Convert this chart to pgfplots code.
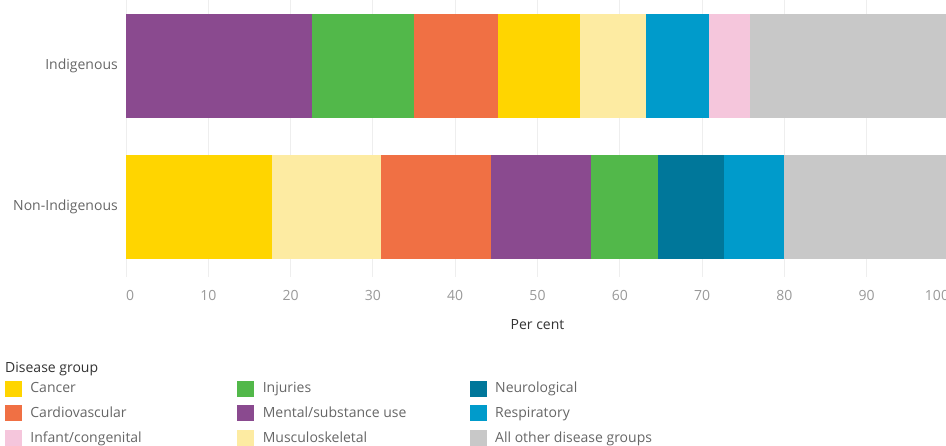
\documentclass[border=0pt]{standalone}
\usepackage{fontspec}
\setmainfont{Open Sans}
\usepackage{pgfplots}
\pgfplotsset{compat=1.18}
\definecolor{cCancer}{HTML}{FFD500}
\definecolor{cCardio}{HTML}{F07044}
\definecolor{cInfant}{HTML}{F5C6DC}
\definecolor{cInjuries}{HTML}{52B84A}
\definecolor{cMental}{HTML}{8A4A8F}
\definecolor{cMusculo}{HTML}{FDEBA2}
\definecolor{cNeuro}{HTML}{00779A}
\definecolor{cResp}{HTML}{009BCB}
\definecolor{cOther}{HTML}{C8C8C8}
\definecolor{tickgrey}{HTML}{999999}
\definecolor{labgrey}{HTML}{666666}
\definecolor{gridgrey}{HTML}{EEEEEE}
\definecolor{darktext}{HTML}{333333}
\newcommand{\fs}{\fontsize{14}{16}\selectfont}
\begin{document}
\begin{tikzpicture}
\path[use as bounding box] (0pt,0pt) rectangle (946pt,445pt);
\clip (0pt,0pt) rectangle (946pt,445pt);
\pgfplotsset{
  base/.style={
    at={(126pt,168.25pt)}, anchor=south west,
    scale only axis, width=823pt, height=280.75pt,
    xmin=0, xmax=100, ymin=-0.5, ymax=1.5,
    xbar stacked, bar width=104pt,
    axis line style={draw=none}, tick style={draw=none},
  },
  seg/.style={fill=#1, draw=none, forget plot},
}
% Indigenous stack (with axes, grid, labels, legend)
\begin{axis}[base,
  xtick={0,10,...,100},
  xticklabels={\rlap{0},10,20,30,40,50,60,70,80,90,\llap{100}},
  xmajorgrids, major grid style={gridgrey, line width=1pt},
  ytick={0,1}, yticklabels={Non-Indigenous, Indigenous},
  /pgf/number format/assume math mode=true,
  xticklabel style={font=\fs, text=tickgrey, anchor=north, yshift=-10pt},
  yticklabel style={font=\fs, text=labgrey, anchor=east, inner sep=0pt, xshift=-8pt},
  xlabel={Per cent},
  xlabel style={font=\fs, text=darktext, at={(axis description cs:0.5,0)}, anchor=center, yshift=-48pt},
  legend columns=3,
  legend style={at={(axis description cs:-0.1470,-0.3700)}, anchor=north west,
    draw=none, fill=none, inner sep=0pt, outer sep=0pt,
    font=\fs, text=labgrey,
    nodes={inner sep=0pt, text height=11pt, text depth=3.5pt},
    row sep=9.3pt,
    /tikz/every odd column/.append style={column sep=9pt},
    /tikz/every even column/.append style={column sep=6pt}},
  legend cell align=left,
]
\addplot[seg=cMental] coordinates {(22.6,1)};
\addplot[seg=cInjuries] coordinates {(12.4,1)};
\addplot[seg=cCardio] coordinates {(10.2,1)};
\addplot[seg=cCancer] coordinates {(10.0,1)};
\addplot[seg=cMusculo] coordinates {(8.0,1)};
\addplot[seg=cResp] coordinates {(7.6,1)};
\addplot[seg=cInfant] coordinates {(5.0,1)};
\addplot[seg=cOther] coordinates {(24.2,1)};
\addlegendimage{legend image code/.code={\fill[cCancer] (0pt,-7pt) rectangle (16pt,8pt);}}
\addlegendentry{\makebox[201pt][l]{Cancer}}
\addlegendimage{legend image code/.code={\fill[cInjuries] (0pt,-7pt) rectangle (16pt,8pt);}}
\addlegendentry{\makebox[201pt][l]{Injuries}}
\addlegendimage{legend image code/.code={\fill[cNeuro] (0pt,-7pt) rectangle (16pt,8pt);}}
\addlegendentry{\makebox[201pt][l]{Neurological}}
\addlegendimage{legend image code/.code={\fill[cCardio] (0pt,-7pt) rectangle (16pt,8pt);}}
\addlegendentry{\makebox[201pt][l]{Cardiovascular}}
\addlegendimage{legend image code/.code={\fill[cMental] (0pt,-7pt) rectangle (16pt,8pt);}}
\addlegendentry{\makebox[201pt][l]{Mental/substance use}}
\addlegendimage{legend image code/.code={\fill[cResp] (0pt,-7pt) rectangle (16pt,8pt);}}
\addlegendentry{\makebox[201pt][l]{Respiratory}}
\addlegendimage{legend image code/.code={\fill[cInfant] (0pt,-7pt) rectangle (16pt,8pt);}}
\addlegendentry{\makebox[201pt][l]{Infant/congenital}}
\addlegendimage{legend image code/.code={\fill[cMusculo] (0pt,-7pt) rectangle (16pt,8pt);}}
\addlegendentry{\makebox[201pt][l]{Musculoskeletal}}
\addlegendimage{legend image code/.code={\fill[cOther] (0pt,-7pt) rectangle (16pt,8pt);}}
\addlegendentry{\makebox[201pt][l]{All other disease groups}}
\end{axis}
% Non-Indigenous stack
\begin{axis}[base, hide axis]
\addplot[seg=cCancer] coordinates {(17.8,0)};
\addplot[seg=cMusculo] coordinates {(13.2,0)};
\addplot[seg=cCardio] coordinates {(13.35,0)};
\addplot[seg=cMental] coordinates {(12.15,0)};
\addplot[seg=cInjuries] coordinates {(8.2,0)};
\addplot[seg=cNeuro] coordinates {(8.0,0)};
\addplot[seg=cResp] coordinates {(7.3,0)};
\addplot[seg=cOther] coordinates {(20.0,0)};
\end{axis}
\node[anchor=west, font=\fs, text=darktext, inner sep=0pt] at (5pt,76pt) {Disease group};
\end{tikzpicture}
\end{document}
